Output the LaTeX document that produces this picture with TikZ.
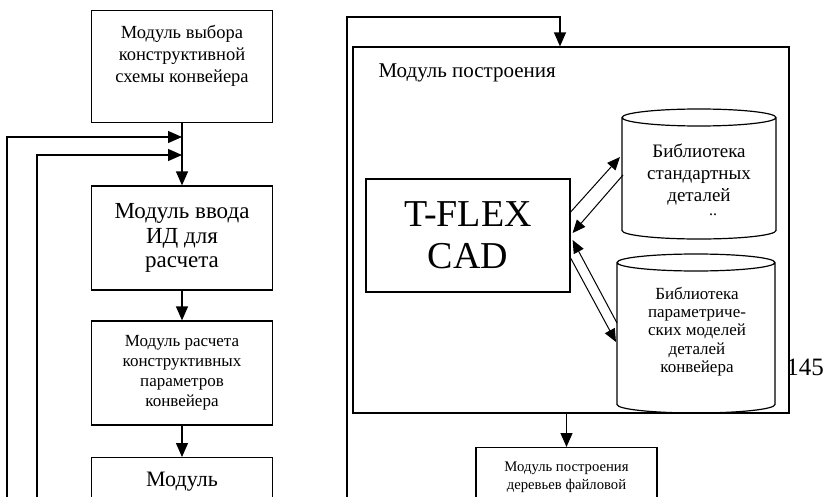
\documentclass[tikz,border=0pt]{standalone}
\usepackage{fontspec}
\setmainfont{Liberation Serif}
\usetikzlibrary{positioning,arrows.meta,shapes.geometric,calc}

\begin{document}
\begin{tikzpicture}[x=1pt, y=-1pt,
    box/.style={draw, line width=1.2pt, align=center, inner sep=4pt, minimum width=181pt},
    cyl/.style={draw, line width=1.2pt, cylinder, shape border rotate=90, aspect=0.118, inner sep=2pt, text width=140pt, anchor=shape center},
    libtxt/.style={align=center, inner sep=0pt},
    arr/.style={-{Triangle[length=14pt, width=12pt]}, line width=1.2pt},
    darr/.style={-{Triangle[length=13pt, width=11pt]}, line width=1pt}]
  \clip (0,0) rectangle (823,496);
  % left column
  \node[box, anchor=north, font=\fontsize{18.5}{22}\selectfont, text height=68pt, text depth=36pt] (sel) at (182,10) {Модуль выбора\\конструктивной\\схемы конвейера};
  \node[box, minimum height=104pt, font=\fontsize{23}{24.5}\selectfont] (inp) at (182,238) {Модуль ввода\\ИД для\\расчета};
  \node[box, minimum height=104pt, font=\fontsize{17}{20}\selectfont] (par) at (182,373) {Модуль расчета\\конструктивных\\параметров\\конвейера};
  \node[box, anchor=north, font=\fontsize{22}{26}\selectfont, text height=25pt, text depth=60pt] (mod) at (182,457) {Модуль};
  \coordinate (j1) at (182,137);
  \coordinate (j2) at (182,155);
  \coordinate (l1) at (7,500);
  \coordinate (l2) at (37,500);
  \draw[arr] (sel) -- (inp);
  \draw[arr] (l1) |- (j1);
  \draw[arr] (l2) |- (j2);
  \draw[arr] (inp) -- (par);
  \draw[arr] (par) -- (mod);
  % right part
  \node[draw, line width=1.2pt, minimum width=436pt, minimum height=366pt] (build) at (571,230) {};
  \node[anchor=west, font=\fontsize{21}{24}\selectfont] (buildlbl) at (375,73) {Модуль построения};
  \node[box, minimum width=204pt, minimum height=113pt, font=\fontsize{38}{42}\selectfont] (tflex) at (468,235.5) {T-FLEX\\CAD};
  \node[cyl, minimum width=154pt, minimum height=130pt] (std) at (699,174) {};
  \node[libtxt, font=\fontsize{19}{22}\selectfont] (stdtxt) at (699,175) {Библиотека\\стандартных\\деталей};
  \node[anchor=base, inner sep=0pt, font=\fontsize{16}{16}\selectfont] (dots) at (713,215) {..};
  \node[cyl, minimum width=158pt, minimum height=159pt] (prm) at (696,333.5) {};
  \node[libtxt, font=\fontsize{17}{18.3}\selectfont] (prmtxt) at (697,331.5) {Библиотека\\параметриче-\\ских моделей\\деталей\\конвейера};
  \node[font=\fontsize{25}{25}\selectfont] (pg) at (805,367) {145};
  \node[box, anchor=north, font=\fontsize{14.7}{18.3}\selectfont, text height=38pt, text depth=60pt] (tree) at (566.5,447) {Модуль построения\\деревьев файловой};
  \coordinate (rl) at (347,500);
  \coordinate (rt) at (560,17);
  \draw[arr] (rl) |- (rt) -- (rt |- build.north);
  \draw[arr] (tree.north |- build.south) -- (tree.north);
  \draw[darr] ($(tflex.east)+(0,-23.5)$) -- ($(std.shape center)+(-79,-17)$);
  \draw[darr] ($(std.shape center)+(-76,1)$) -- ($(tflex.east)+(2,-2.5)$);
  \draw[darr] ($(prm.shape center)+(-79,-10.5)$) -- ($(tflex.east)+(2,4.5)$);
  \draw[darr] ($(tflex.east)+(0,22.5)$) -- ($(prm.shape center)+(-80,8.5)$);
\end{tikzpicture}
\end{document}
